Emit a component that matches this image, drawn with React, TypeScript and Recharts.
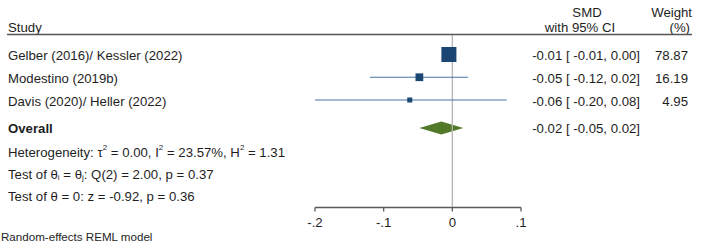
import React from 'react';
import { ComposedChart, XAxis, YAxis, Scatter, ReferenceLine, ReferenceArea, ReferenceDot } from 'recharts';

const studies = ['Gelber (2016)/ Kessler (2022)', 'Modestino (2019b)', 'Davis (2020)/ Heller (2022)'];
const smd = [-0.005, -0.048, -0.062];
const ciLow = [-0.01, -0.12, -0.2];
const ciHigh = [0.0, 0.023, 0.079];
const smdLabels = ['-0.01 [ -0.01, 0.00]', '-0.05 [ -0.12, 0.02]', '-0.06 [ -0.20, 0.08]'];
const weights = [78.87, 16.19, 4.95];
const weightLabels = ['78.87', '16.19', '4.95'];
const studyRows = [1, 2, 3];

const overallLabel = 'Overall';
const overallEst = -0.016;
const overallLow = -0.048;
const overallHigh = 0.016;
const overallText = '-0.02 [ -0.05, 0.02]';
const overallRow = 4.23;

const xTicks = [-0.2, -0.1, 0, 0.1];
const xTickLabels = ['-.2', '-.1', '0', '.1'];

const FONT = '"Liberation Sans", Arial, sans-serif';
const TXT = '#1e1e1e';
const FS = 13.2;

const data = studies.map((s, i) => ({
  study: s,
  x: smd[i],
  y: studyRows[i],
  weight: weights[i],
  label: smdLabels[i],
  wLabel: weightLabels[i],
}));

const SquareShape = (props: any) => {
  const { cx, cy, payload } = props;
  const s = 1.5 * Math.sqrt(payload.weight) + 1.7;
  return <rect x={cx - s / 2} y={cy - s / 2} width={s} height={s} fill="#1b4674" />;
};

const makeRowText = (i: number) => (props: any) => {
  const { cy } = props;
  return (
    <g>
      <text x={8} y={cy + 1.5} dominantBaseline="central" fontFamily={FONT} fontSize={FS} fill={TXT}>
        {studies[i]}
      </text>
      <text x={640} y={cy + 1.5} dominantBaseline="central" textAnchor="end" fontFamily={FONT} fontSize={FS} fill={TXT}>
        {smdLabels[i]}
      </text>
      <text x={688} y={cy + 1.5} dominantBaseline="central" textAnchor="end" fontFamily={FONT} fontSize={FS} fill={TXT}>
        {weightLabels[i]}
      </text>
    </g>
  );
};

const DiamondShape = (props: any) => {
  const { x, y, width, height } = props;
  const r = (overallEst - overallLow) / (overallHigh - overallLow);
  const cy = y + height / 2;
  const pts = `${x},${cy} ${x + width * r},${y} ${x + width},${cy} ${x + width * r},${y + height}`;
  return (
    <g>
      <polygon points={pts} fill="#52792a" />
      <text x={8} y={cy + 1} dominantBaseline="central" fontFamily={FONT} fontSize={FS} fontWeight="bold" fill={TXT}>
        {overallLabel}
      </text>
      <text x={640} y={cy + 1} dominantBaseline="central" textAnchor="end" fontFamily={FONT} fontSize={FS} fill={TXT}>
        {overallText}
      </text>
    </g>
  );
};

export default function App() {
  return (
    <div style={{ position: 'fixed', left: 0, top: 0, width: 702, height: 252, background: '#fff' }}>
      <ComposedChart
        width={702}
        height={252}
        margin={{ top: 35, left: 315, right: 181, bottom: 0 }}
      >
        <XAxis
          type="number"
          dataKey="x"
          domain={[-0.2, 0.1]}
          ticks={xTicks}
          tickFormatter={(v: number) => xTickLabels[xTicks.indexOf(v)] ?? String(v)}
          height={44.5}
          stroke="#5a5a5a"
          strokeWidth={1.3}
          tickSize={4}
          tickMargin={6}
          tick={{ fill: TXT, fontSize: FS, fontFamily: FONT }}
          allowDataOverflow
        />
        <YAxis type="number" dataKey="y" hide reversed domain={[0.143, 7.725]} allowDataOverflow />
        <ReferenceLine x={0} stroke="#b5b5b5" strokeWidth={1.3} />
        {studies.map((s, i) => (
          <ReferenceLine
            key={s}
            segment={[{ x: ciLow[i], y: studyRows[i] }, { x: ciHigh[i], y: studyRows[i] }]}
            stroke="#4a74a3"
            strokeWidth={1.2}
          />
        ))}
        {studies.map((s, i) => (
          <ReferenceDot key={'t' + s} x={smd[i]} y={studyRows[i]} shape={makeRowText(i)} />
        ))}
        <ReferenceArea
          x1={overallLow}
          x2={overallHigh}
          y1={overallRow - 0.29}
          y2={overallRow + 0.29}
          shape={DiamondShape}
        />
        <Scatter data={data} dataKey="y" shape={SquareShape} isAnimationActive={false} />
      </ComposedChart>
      <svg
        width={702}
        height={252}
        style={{ position: 'absolute', left: 0, top: 0, pointerEvents: 'none' }}
        fontFamily={FONT}
        fontSize={FS}
        fill={TXT}
      >
        <text x={8} y={27} dominantBaseline="central">Study</text>
        <text x={587} y={12} dominantBaseline="central" textAnchor="middle">SMD</text>
        <text x={580} y={27} dominantBaseline="central" textAnchor="middle">with 95% CI</text>
        <text x={692} y={12} dominantBaseline="central" textAnchor="end">Weight</text>
        <text x={690} y={27} dominantBaseline="central" textAnchor="end">(%)</text>
        <line x1={7} x2={692} y1={34.5} y2={34.5} stroke="#555" strokeWidth={1.6} />
        <text x={8} y={152} dominantBaseline="central">
          Heterogeneity: τ<tspan dy={-5} fontSize={8}>2</tspan>
          <tspan dy={5}> = 0.00, I</tspan>
          <tspan dy={-5} fontSize={8}>2</tspan>
          <tspan dy={5}> = 23.57%, H</tspan>
          <tspan dy={-5} fontSize={8}>2</tspan>
          <tspan dy={5}> = 1.31</tspan>
        </text>
        <text x={8} y={174} dominantBaseline="central">
          Test of θ<tspan dy={3} fontSize={8}>i</tspan>
          <tspan dy={-3}> = θ</tspan>
          <tspan dy={3} fontSize={8}>j</tspan>
          <tspan dy={-3}>: Q(2) = 2.00, p = 0.37</tspan>
        </text>
        <text x={8} y={196} dominantBaseline="central">Test of θ = 0: z = -0.92, p = 0.36</text>
        <text x={1} y={236} dominantBaseline="central" fontSize={11.6}>Random-effects REML model</text>
      </svg>
    </div>
  );
}
